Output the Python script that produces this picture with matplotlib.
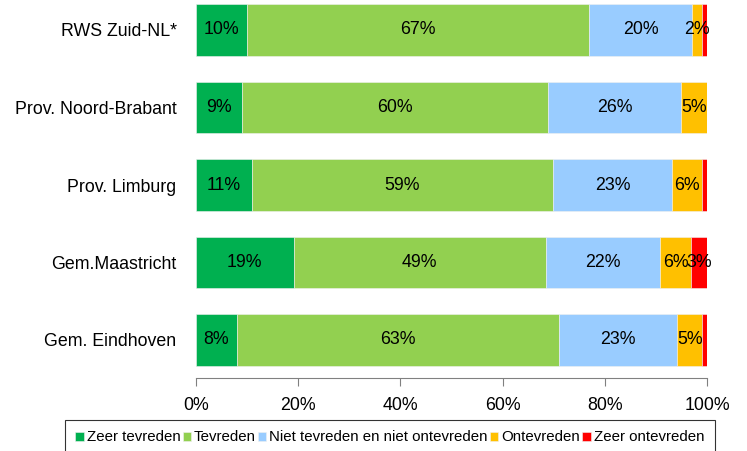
import numpy as np
import matplotlib
matplotlib.use("Agg")
import matplotlib.pyplot as plt
from matplotlib.ticker import FuncFormatter

plt.rcParams["font.family"] = ["Liberation Sans", "DejaVu Sans"]

# ── data (percentages) ───────────────────────────────────────────────────────
categories = ["RWS Zuid-NL*", "Prov. Noord-Brabant", "Prov. Limburg",
              "Gem.Maastricht", "Gem. Eindhoven"]
series = ["Zeer tevreden", "Tevreden", "Niet tevreden en niet ontevreden",
          "Ontevreden", "Zeer ontevreden"]
zeer_tevreden = [9.9, 9.0, 10.9, 19.1, 8.0]
tevreden = [67.0, 59.9, 59.0, 49.4, 63.0]
neutraal = [20.2, 26.1, 23.2, 22.3, 23.1]
ontevreden = [2.0, 5.0, 6.0, 6.1, 5.0]
zeer_ontevreden = [0.9, 0.0, 0.9, 3.1, 0.9]
colors = ["#00B050", "#92D050", "#99CCFF", "#FFC000", "#FF0000"]

values = [zeer_tevreden, tevreden, neutraal, ontevreden, zeer_ontevreden]

# ── chart ─────────────────────────────────────────────────────────────────────
fig = plt.figure(figsize=(7.47, 4.51), dpi=100)
ax = fig.add_axes([196 / 747, 1 - 378 / 451, 511 / 747, 378 / 451])

y = np.arange(len(categories))
left = np.zeros(len(categories))
for name, vals, col in zip(series, values, colors):
    vals = np.array(vals)
    ax.barh(y, vals, left=left, height=0.66, color=col, label=name,
            edgecolor="#f0f0f0", linewidth=0.4)
    for yi, l, v in zip(y, left, vals):
        if v >= 1.5:
            ax.text(l + v / 2, yi, f"{v:.0f}%", ha="center", va="center",
                    fontsize=12.8, color="black")
    left += vals

ax.set_xlim(0, 100)
ax.set_ylim(4 + 38 / 77.5, -30 / 77.5)
ax.set_yticks(y)
ax.set_yticklabels(categories, fontsize=12.8)
ax.set_xticks(np.arange(0, 101, 20))
ax.xaxis.set_major_formatter(FuncFormatter(lambda v, p: f"{v:.0f}%"))
ax.tick_params(axis="x", labelsize=12.8, direction="out", length=6,
               color="#808080", pad=8)
ax.tick_params(axis="y", length=0, pad=14)
for s in ["top", "right", "left"]:
    ax.spines[s].set_visible(False)
ax.spines["bottom"].set_color("#808080")

leg = ax.legend(loc="upper center", bbox_to_anchor=(0.379, -0.111), ncol=5,
                fontsize=10.8, frameon=True, fancybox=False, handlelength=0.55,
                handleheight=0.55, handletextpad=0.2, columnspacing=0.15,
                borderpad=0.7, borderaxespad=0)
leg.get_frame().set_edgecolor("black")
leg.get_frame().set_linewidth(0.8)

fig.savefig("out.png", dpi=100)
